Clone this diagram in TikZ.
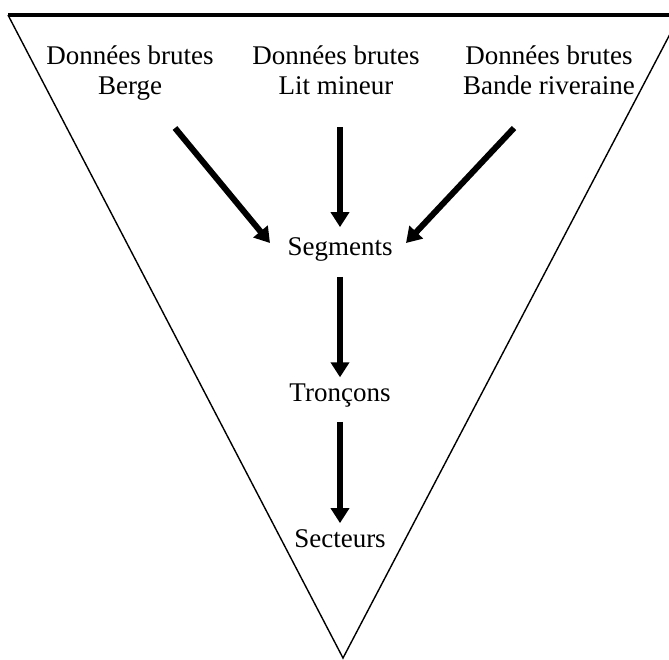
\documentclass[tikz,border=0pt]{standalone}
\usepackage{fontspec}
\setmainfont{Liberation Serif}
\usetikzlibrary{arrows.meta}
\begin{document}
\begin{tikzpicture}[x=1pt,y=-1pt,
  lbl/.style={inner sep=0pt, outer sep=0pt, font=\fontsize{27}{30}\selectfont, align=center},
  arr/.style={line width=6pt, -{Triangle[length=15pt,width=18pt]}},
  edge/.style={line width=1.4pt},
  topedge/.style={line width=3.2pt}]
\useasboundingbox (0,0) rectangle (669,659);
\clip (0,0) rectangle (669,659);
% funnel
\coordinate (tl) at (8,15);
\coordinate (tr) at (680,15);
\coordinate (apex) at (343,658);
\draw[edge] (tl) -- (apex) -- (tr);
\draw[topedge] (tl) -- (tr);
% labels
\node[lbl, anchor=north] (berge) at (130,46) {Données brutes\\Berge};
\node[lbl, anchor=north] (lit) at (336,46) {Données brutes\\Lit mineur};
\node[lbl, anchor=north] (bande) at (549,46) {Données brutes\\Bande riveraine};
\node[lbl, anchor=base] (seg) at (340,255) {Segments};
\node[lbl, anchor=base] (tron) at (340,401) {Tronçons};
\node[lbl, anchor=base] (sect) at (340,547) {Secteurs};
% arrow ends
\coordinate (a1) at (175,128);
\coordinate (b1) at (270,243);
\coordinate (a3) at (514,128);
\coordinate (b3) at (406,243);
\draw[arr] (a1) -- (b1);
\draw[arr] (a3) -- (b3);
\draw[arr, shorten <=32pt, shorten >=10pt] (seg.north |- lit.south) -- (seg.north);
\draw[arr, shorten <=16pt, shorten >=6pt] (seg.south) -- (tron.north);
\draw[arr, shorten <=15pt, shorten >=6pt] (tron.south) -- (sect.north);
\end{tikzpicture}
\end{document}
